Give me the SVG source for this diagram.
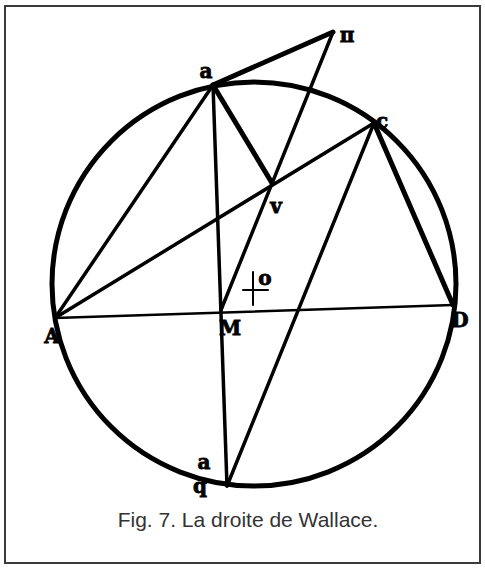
<svg xmlns="http://www.w3.org/2000/svg" width="485" height="568" viewBox="0 0 485 568">
<style>
.frame{fill:#fff;stroke:#3a3a3a;stroke-width:2}
.ln{stroke:#000;fill:none;stroke-linecap:round;stroke-linejoin:round}
.t1{stroke-width:2.5}
.t2{stroke-width:3.5}
.t3{stroke-width:5}
.lbl{font-family:"DejaVu Serif","Liberation Serif",serif;font-weight:bold;font-size:20px;fill:#000;stroke:#000;stroke-width:0.8;text-anchor:middle}
.cap{font-family:"Liberation Sans",Arial,sans-serif;font-size:21px;fill:#333;text-anchor:middle}
</style>
<rect class="frame" x="5" y="6" width="475" height="557"/>
<g id="connectors">
<circle class="ln t3" cx="254" cy="284" r="202"/>
<line class="ln t1" x1="55" y1="318" x2="453" y2="305"/>
<line class="ln t2" x1="213" y1="85" x2="55" y2="318"/>
<line class="ln t2" x1="213" y1="85" x2="227" y2="486"/>
<line class="ln t3" x1="213" y1="85" x2="272" y2="183"/>
<line class="ln t3" x1="213" y1="85" x2="333" y2="32"/>
<line class="ln t2" x1="333" y1="32" x2="221" y2="310"/>
<line class="ln t2" x1="55" y1="318" x2="374" y2="123"/>
<line class="ln t3" x1="374" y1="123" x2="453" y2="305"/>
<line class="ln t2" x1="374" y1="123" x2="227" y2="486"/>
<line class="ln" stroke-width="2" x1="243" y1="290" x2="268" y2="290"/>
<line class="ln" stroke-width="2" x1="253" y1="272" x2="253" y2="305"/>
</g>
<g id="node-a"><text class="lbl" x="206" y="78" font-size="21">a</text></g>
<g id="node-P"><text class="lbl" x="347" y="42" font-size="19">π</text></g>
<g id="node-E"><text class="lbl" x="382" y="128" font-size="19">c</text></g>
<g id="node-V"><text class="lbl" x="276" y="213" font-size="21">v</text></g>
<g id="node-M"><text class="lbl" x="230" y="335" font-size="16">M</text></g>
<g id="node-O"><text class="lbl" x="265" y="285" font-size="20">o</text></g>
<g id="node-A"><text class="lbl" x="52" y="343" font-size="17">A</text></g>
<g id="node-B"><text class="lbl" x="460" y="327" font-size="16">D</text></g>
<g id="node-q1"><text class="lbl" x="204" y="469" font-size="20">a</text></g>
<g id="node-q2"><text class="lbl" x="200" y="493" font-size="17">q</text></g>
<text class="cap" x="248" y="527">Fig. 7. La droite de Wallace.</text>
</svg>
